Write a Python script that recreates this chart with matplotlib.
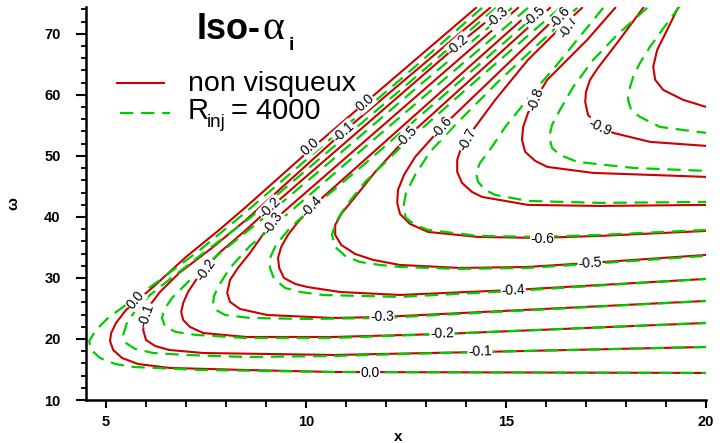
import matplotlib
matplotlib.use('Agg')
import matplotlib.pyplot as plt
from matplotlib.lines import Line2D
from matplotlib.ticker import MultipleLocator

plt.rcParams['font.family'] = ['Liberation Sans', 'DejaVu Sans']

# ---------------- data (x, omega) ----------------
# inviscid case ("non visqueux"), solid red iso-alpha_i lines
red_00_x = [14.25, 12.35, 10.10, 8.50, 7.83, 7.00, 6.18, 5.50, 5.25, 5.13, 5.10, 5.18, 5.40, 5.80, 6.60, 8.50, 10.68, 20.0]
red_00_w = [74.26, 63.61, 50.98, 41.64, 37.87, 33.44, 28.52, 24.75, 22.62, 20.98, 19.67, 18.20, 16.89, 15.90, 15.25, 14.92, 14.59, 14.43]
red_01_x = [14.60, 10.93, 8.50, 7.68, 6.83, 6.35, 6.10, 5.98, 5.93, 6.00, 6.23, 6.58, 7.43, 10.68, 14.35, 20.0]
red_01_w = [74.26, 53.93, 39.51, 35.08, 30.82, 27.70, 25.57, 23.44, 21.48, 19.84, 18.85, 18.20, 17.70, 17.38, 17.87, 18.69]
red_02_x = [14.93, 13.80, 9.10, 8.50, 7.83, 7.50, 7.25, 7.05, 6.93, 6.88, 6.93, 7.10, 7.43, 8.50, 10.68, 13.40, 20.0]
red_02_w = [74.26, 68.20, 41.48, 37.87, 34.10, 31.64, 29.67, 27.70, 25.90, 24.43, 23.11, 21.97, 20.98, 20.33, 20.33, 20.82, 22.62]
red_03_x = [15.30, 9.15, 8.90, 8.60, 8.30, 8.10, 8.03, 8.10, 8.35, 9.03, 10.68, 11.90, 20.0]
red_03_w = [74.26, 39.18, 36.89, 34.10, 31.64, 29.67, 27.54, 26.07, 24.92, 23.93, 23.44, 23.61, 26.23]
red_04_x = [15.73, 10.15, 9.80, 9.55, 9.38, 9.30, 9.33, 9.45, 9.73, 10.03, 10.85, 12.35, 15.18, 20.0]
red_04_w = [74.26, 41.64, 39.18, 37.05, 35.08, 33.28, 31.64, 30.00, 29.02, 28.52, 27.70, 27.21, 28.03, 29.84]
red_05_x = [16.10, 12.53, 11.73, 11.23, 10.90, 10.73, 10.73, 10.88, 11.23, 11.68, 12.35, 13.85, 15.53, 17.10, 20.0]
red_05_w = [74.26, 53.11, 47.38, 43.28, 40.66, 38.69, 37.05, 35.41, 33.93, 32.95, 32.13, 31.64, 31.80, 32.46, 33.77]
red_06_x = [16.50, 13.40, 12.73, 12.45, 12.30, 12.28, 12.35, 12.60, 13.05, 14.30, 15.80, 17.35, 20.0]
red_06_w = [74.26, 54.75, 49.84, 46.89, 44.43, 42.30, 40.49, 38.85, 37.54, 36.72, 36.56, 36.89, 37.70]
red_07_x = [16.90, 16.23, 15.55, 14.73, 14.23, 13.90, 13.78, 13.78, 13.90, 14.15, 14.40, 15.55, 17.35, 20.0]
red_07_w = [74.26, 70.16, 65.74, 59.18, 54.75, 51.80, 49.34, 47.38, 45.57, 44.10, 43.28, 41.97, 41.80, 41.97]
red_08_x = [17.73, 17.03, 16.03, 15.73, 15.55, 15.43, 15.40, 15.48, 15.73, 16.03, 17.18, 18.60, 20.0]
red_08_w = [74.26, 69.02, 62.46, 59.18, 57.05, 54.75, 52.62, 50.66, 49.18, 48.20, 47.21, 46.89, 46.56]
red_09_x = [18.43, 17.78, 17.30, 17.10, 17.00, 16.98, 17.05, 17.25, 17.68, 18.60, 20.0]
red_09_w = [74.26, 68.53, 64.43, 62.46, 60.49, 58.85, 56.72, 55.41, 53.77, 52.30, 51.64]
red_10_x = [19.30, 19.03, 18.78, 18.68, 18.73, 18.93, 19.43, 20.0]
red_10_w = [74.26, 70.66, 67.38, 64.59, 62.46, 60.82, 59.18, 58.03]

# R_inj = 4000, dashed green iso-alpha_i lines
grn_00_x = [14.40, 12.35, 10.35, 8.50, 7.35, 6.35, 5.60, 5.05, 4.75, 4.58, 4.63, 4.85, 5.23, 5.68, 7.35, 10.68, 20.0]
grn_00_w = [74.26, 62.46, 51.31, 40.82, 34.59, 29.67, 26.07, 23.44, 21.48, 19.67, 18.20, 16.89, 15.90, 15.41, 14.92, 14.59, 14.43]
grn_01_x = [14.75, 12.60, 10.60, 8.60, 7.60, 6.73, 6.10, 5.75, 5.53, 5.43, 5.50, 5.73, 6.18, 7.00, 8.50, 10.68, 14.35, 20.0]
grn_01_w = [74.26, 62.13, 50.98, 39.84, 34.92, 30.49, 27.21, 24.75, 22.79, 20.66, 19.34, 18.36, 17.70, 17.38, 17.05, 17.21, 17.87, 18.69]
grn_02_x = [15.15, 12.85, 10.60, 8.85, 7.73, 7.10, 6.65, 6.45, 6.40, 6.48, 6.75, 7.25, 8.50, 10.68, 13.40, 20.0]
grn_02_w = [74.26, 61.64, 49.02, 39.34, 33.44, 29.67, 26.72, 24.75, 23.44, 21.97, 21.15, 20.66, 20.16, 20.16, 20.82, 22.62]
grn_03_x = [15.55, 13.35, 11.10, 9.48, 8.60, 8.10, 7.83, 7.70, 7.68, 7.75, 7.98, 8.60, 10.03, 11.90, 20.0]
grn_03_w = [74.26, 61.97, 49.34, 40.16, 35.25, 31.64, 28.85, 27.05, 25.90, 24.75, 23.93, 23.44, 23.28, 23.44, 26.23]
grn_04_x = [15.95, 13.60, 11.35, 10.10, 9.60, 9.25, 9.10, 9.10, 9.20, 9.48, 9.85, 10.43, 12.35, 15.18, 20.0]
grn_04_w = [74.26, 60.82, 48.03, 41.15, 38.20, 35.41, 33.28, 31.64, 29.84, 28.36, 27.70, 27.21, 26.89, 27.87, 29.84]
grn_05_x = [16.35, 14.10, 12.35, 11.48, 10.98, 10.75, 10.65, 10.73, 10.98, 11.35, 11.85, 12.35, 13.85, 15.53, 17.10, 20.0]
grn_05_w = [74.26, 61.47, 51.31, 45.74, 41.64, 39.18, 37.05, 35.08, 33.61, 32.62, 32.13, 31.80, 31.48, 31.64, 32.30, 33.61]
grn_06_x = [16.78, 14.85, 13.73, 13.10, 12.73, 12.50, 12.43, 12.50, 12.73, 13.05, 14.30, 15.80, 17.35, 20.0]
grn_06_w = [74.26, 62.46, 55.08, 50.66, 46.89, 43.93, 41.48, 39.84, 38.69, 37.87, 36.89, 36.72, 37.05, 37.87]
grn_07_x = [17.43, 16.23, 15.73, 14.98, 14.65, 14.35, 14.25, 14.30, 14.48, 14.73, 15.55, 17.35, 20.0]
grn_07_w = [74.26, 64.59, 60.82, 54.75, 51.48, 48.85, 47.21, 45.74, 44.43, 43.61, 42.62, 42.30, 42.46]
grn_08_x = [18.53, 17.78, 17.18, 16.68, 16.35, 16.15, 16.08, 16.15, 16.35, 16.78, 18.18, 20.0]
grn_08_w = [74.26, 69.84, 65.74, 61.31, 57.54, 55.08, 53.11, 51.31, 50.16, 49.02, 48.03, 47.54]
grn_09_x = [19.35, 18.85, 18.60, 18.35, 18.18, 18.08, 18.05, 18.13, 18.35, 18.85, 19.60, 20.0]
grn_09_w = [74.59, 70.16, 67.87, 65.25, 62.95, 60.82, 59.18, 57.54, 56.39, 54.75, 54.10, 53.77]

# contour labels (x, omega, text, angle)
label_x = [11.60, 11.90, 13.40, 14.35, 15.18, 15.90, 17.10,
           5.75, 6.00, 7.50, 9.10, 9.18, 10.15, 10.10, 10.93, 11.48,
           12.53, 13.40, 14.03, 15.73, 17.35, 13.80, 16.55, 14.78, 15.72, 16.36]
label_w = [14.43, 23.61, 20.82, 17.87, 28.03, 36.39, 32.46,
           26.39, 23.93, 31.31, 41.48, 39.02, 41.64, 51.48, 53.93, 58.69,
           53.11, 54.75, 52.62, 59.18, 54.75, 68.20, 71.15, 72.70, 72.90, 72.70]
label_txt = ["0.0", "-0.3", "-0.2", "-0.1", "-0.4", "-0.6", "-0.5",
             "0.0", "-0.1", "-0.2", "-0.2", "-0.3", "-0.4", "0.0", "-0.1", "0.0",
             "-0.5", "-0.6", "-0.7", "-0.8", "-0.9", "-0.2", "-0.7", "-0.3", "-0.5", "-0.6"]
label_rot = [0, 1, 2, 2, 3, 0, 4,
             50, 72, 55, 45, 55, 47, 41, 42, 41,
             46, 50, 62, 70, -25, 42, 58, 42, 42, 50]

x_ticks = [5, 10, 15, 20]
w_ticks = [10, 20, 30, 40, 50, 60, 70]

red_lines = [(red_00_x, red_00_w), (red_01_x, red_01_w), (red_02_x, red_02_w),
             (red_03_x, red_03_w), (red_04_x, red_04_w), (red_05_x, red_05_w),
             (red_06_x, red_06_w), (red_07_x, red_07_w), (red_08_x, red_08_w),
             (red_09_x, red_09_w), (red_10_x, red_10_w)]
grn_lines = [(grn_00_x, grn_00_w), (grn_01_x, grn_01_w), (grn_02_x, grn_02_w),
             (grn_03_x, grn_03_w), (grn_04_x, grn_04_w), (grn_05_x, grn_05_w),
             (grn_06_x, grn_06_w), (grn_07_x, grn_07_w), (grn_08_x, grn_08_w),
             (grn_09_x, grn_09_w)]

RED = '#cc0000'
GRN = '#00cc00'
DASH = (0, (6, 3.5))

W, H = 723, 443
fig = plt.figure(figsize=(W / 100, H / 100), dpi=100)
ax = fig.add_axes([86 / W, 1 - 400 / H, 620 / W, 393 / H])

for xs, ws in red_lines:
    ax.plot(xs, ws, color=RED, lw=1.5, solid_joinstyle='round', zorder=2)
for xs, ws in grn_lines:
    ax.plot(xs, ws, color=GRN, lw=1.6, ls=DASH, zorder=3)

for x, w, t, r in zip(label_x, label_w, label_txt, label_rot):
    ax.text(x, w, t, rotation=r, rotation_mode='anchor', ha='center', va='center',
            fontsize=10, color='black', zorder=5, clip_on=True,
            bbox=dict(fc='white', ec='none', pad=0.4))

ax.set_xlim(4.5, 20)
ax.set_ylim(10, 74.4)
ax.set_xticks(x_ticks)
ax.set_yticks(w_ticks)
ax.xaxis.set_minor_locator(MultipleLocator(1))
ax.yaxis.set_minor_locator(MultipleLocator(2))
for s in ['top', 'right']:
    ax.spines[s].set_visible(False)
for s in ['left', 'bottom']:
    ax.spines[s].set_linewidth(1.8)
ax.tick_params(axis='x', which='major', direction='out', length=5.8, width=1.5, pad=5, labelsize=10.5)
ax.tick_params(axis='x', which='minor', direction='out', length=4.8, width=1.3)
ax.tick_params(axis='y', which='major', direction='out', length=7.2, width=1.5, pad=11, labelsize=10.5)
ax.tick_params(axis='y', which='minor', direction='out', length=3.6, width=1.3)
for lab in ax.get_xticklabels() + ax.get_yticklabels():
    lab.set_fontweight('bold')

ax.set_xlabel('x', fontweight='bold', fontsize=11)
ax.xaxis.set_label_coords(0.503, -0.076)
ax.set_ylabel('ω', fontweight='bold', fontsize=11)
ax.yaxis.set_label_coords(-0.106, 0.5)

# title "Iso-alpha_i"
fig.text(197 / W, 1 - 39 / H, 'Iso-', fontsize=26, fontweight='bold', ha='left', va='baseline')
fig.text(262 / W, 1 - 39 / H, 'α', family='Liberation Serif', fontsize=30, ha='left', va='baseline')
fig.text(289 / W, 1 - 50 / H, 'i', fontsize=14, fontweight='bold', ha='left', va='baseline')

# legend
fig.add_artist(Line2D([117 / W, 164 / W], [1 - 83 / H, 1 - 83 / H], color=RED, lw=1.5))
fig.add_artist(Line2D([120 / W, 170 / W], [1 - 113 / H, 1 - 113 / H], color=GRN, lw=1.6, ls=DASH))
fig.text(188 / W, 1 - 91 / H, 'non visqueux', fontsize=20.5, ha='left', va='baseline')
fig.text(188 / W, 1 - 119 / H, 'R', fontsize=21, ha='left', va='baseline')
fig.text(207 / W, 1 - 127 / H, 'inj', fontsize=13.5, ha='left', va='baseline')
fig.text(231 / W, 1 - 119 / H, '= 4000', fontsize=21, ha='left', va='baseline')

fig.savefig('out.png', dpi=100)
